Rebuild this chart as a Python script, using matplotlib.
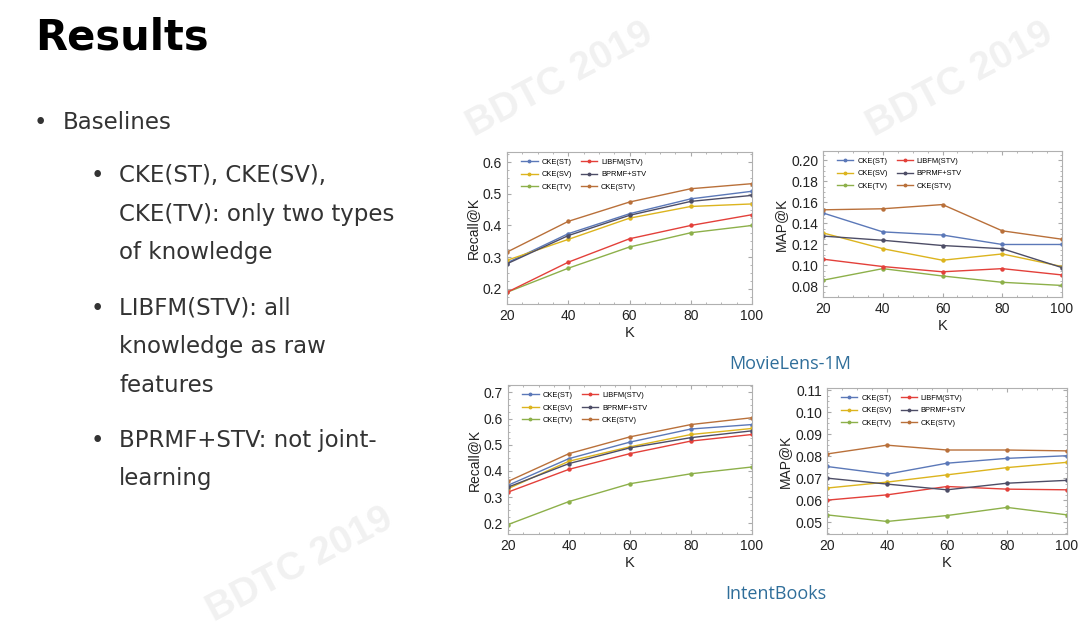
import matplotlib
matplotlib.use("Agg")
import matplotlib.pyplot as plt
from matplotlib.ticker import FixedLocator, AutoMinorLocator

# ---- data ----
k_values = [20, 40, 60, 80, 100]
methods = ["CKE(ST)", "CKE(SV)", "CKE(TV)", "LIBFM(STV)", "BPRMF+STV", "CKE(STV)"]
colors = ["#5b78b8", "#dcb41e", "#8db04a", "#e3403a", "#4d4d66", "#b9703a"]

ml_recall = {
    "CKE(ST)": [0.282, 0.374, 0.437, 0.484, 0.508],
    "CKE(SV)": [0.290, 0.356, 0.423, 0.460, 0.468],
    "CKE(TV)": [0.189, 0.265, 0.332, 0.377, 0.400],
    "LIBFM(STV)": [0.189, 0.284, 0.358, 0.400, 0.434],
    "BPRMF+STV": [0.279, 0.368, 0.432, 0.476, 0.495],
    "CKE(STV)": [0.316, 0.413, 0.474, 0.516, 0.532],
}
ml_map = {
    "CKE(ST)": [0.150, 0.132, 0.129, 0.120, 0.120],
    "CKE(SV)": [0.131, 0.116, 0.105, 0.111, 0.099],
    "CKE(TV)": [0.086, 0.097, 0.090, 0.084, 0.081],
    "LIBFM(STV)": [0.106, 0.099, 0.094, 0.097, 0.091],
    "BPRMF+STV": [0.128, 0.124, 0.119, 0.116, 0.098],
    "CKE(STV)": [0.153, 0.154, 0.158, 0.133, 0.125],
}
ib_recall = {
    "CKE(ST)": [0.345, 0.447, 0.510, 0.560, 0.577],
    "CKE(SV)": [0.332, 0.437, 0.492, 0.539, 0.562],
    "CKE(TV)": [0.195, 0.283, 0.351, 0.389, 0.415],
    "LIBFM(STV)": [0.319, 0.406, 0.466, 0.514, 0.539],
    "BPRMF+STV": [0.338, 0.428, 0.488, 0.527, 0.553],
    "CKE(STV)": [0.360, 0.466, 0.530, 0.577, 0.603],
}
ib_map = {
    "CKE(ST)": [0.0753, 0.0718, 0.0768, 0.0790, 0.0802],
    "CKE(SV)": [0.0655, 0.0682, 0.0715, 0.0748, 0.0772],
    "CKE(TV)": [0.0533, 0.0503, 0.0530, 0.0567, 0.0533],
    "LIBFM(STV)": [0.0600, 0.0624, 0.0662, 0.0650, 0.0647],
    "BPRMF+STV": [0.0700, 0.0673, 0.0647, 0.0677, 0.0690],
    "CKE(STV)": [0.0810, 0.0850, 0.0828, 0.0828, 0.0824],
}

W, H = 1080, 628
fig = plt.figure(figsize=(W / 100, H / 100), dpi=100)
fig.patch.set_facecolor("white")


def fx(px):
    return px / W


def fy(py):
    return 1 - py / H


# faint "BDTC 2019" watermark, kept behind everything
for wx, wy in [(560, 80), (960, 80), (300, 565)]:
    fig.text(fx(wx), fy(wy), "BDTC 2019", fontsize=28, fontweight="bold",
             color="#f1f1f1", rotation=28, ha="center", va="center",
             family="Liberation Sans", zorder=-5)

# slide text
fig.text(fx(35), fy(37), "Results", fontsize=30, fontweight="bold",
         family="DejaVu Sans", color="black", va="center")

body = dict(family="DejaVu Sans", color="#333333", va="center", fontsize=16.5)
fig.text(fx(34), fy(122), "•", **body)
fig.text(fx(63), fy(122), "Baselines", **body)

lines = [
    (176, True, "CKE(ST), CKE(SV),"),
    (215, False, "CKE(TV): only two types"),
    (253, False, "of knowledge"),
    (308, True, "LIBFM(STV): all"),
    (347, False, "knowledge as raw"),
    (385, False, "features"),
    (440, True, "BPRMF+STV: not joint-"),
    (478, False, "learning"),
]
for ypx, bullet, txt in lines:
    if bullet:
        fig.text(fx(91), fy(ypx), "•", **body)
    fig.text(fx(119), fy(ypx), txt, **body)

cap = dict(family="Open Sans", color="#2f6e9a", fontsize=13, ha="center", va="center")
fig.text(fx(790), fy(364), "MovieLens-1M", **cap)
fig.text(fx(776), fy(594), "IntentBooks", **cap)


def panel(rect_px, data, ylim, yticks, ylabel, fmt):
    l, r, t, b = rect_px
    ax = fig.add_axes([fx(l), fy(b), fx(r - l), (b - t) / H])
    ax.set_facecolor("none")
    for m, c in zip(methods, colors):
        ax.plot(k_values, data[m], color=c, lw=1.0, marker="o", ms=2.2, label=m)
    ax.set_xlim(20, 100)
    ax.set_ylim(*ylim)
    ax.xaxis.set_major_locator(FixedLocator(k_values))
    ax.yaxis.set_major_locator(FixedLocator(yticks))
    ax.set_yticklabels([fmt % v for v in yticks])
    ax.xaxis.set_minor_locator(AutoMinorLocator(4))
    ax.yaxis.set_minor_locator(AutoMinorLocator(4))
    ax.tick_params(which="both", direction="in", top=True, right=True,
                   colors="#aaaaaa", labelcolor="#222222", labelsize=10)
    ax.tick_params(which="major", length=3)
    ax.tick_params(which="minor", length=1.5)
    for s in ax.spines.values():
        s.set_color("#b0b0b0")
        s.set_linewidth(0.8)
    ax.set_xlabel("K", fontsize=10.5, color="#222222", labelpad=2)
    ax.set_ylabel(ylabel, fontsize=10, color="#222222", labelpad=2)
    ax.legend(loc="upper left", bbox_to_anchor=(0.03, 1.0), ncol=2,
              fontsize=5.4, frameon=False, handlelength=2.2, markerscale=0.8,
              columnspacing=1.2, labelspacing=0.7, handletextpad=0.5)
    return ax


plt.rcParams["font.family"] = ["Liberation Sans", "DejaVu Sans"]

panel((507, 752, 152, 304), ml_recall, (0.152, 0.632), [0.2, 0.3, 0.4, 0.5, 0.6],
      "Recall@K", "%.1f")
panel((823, 1062, 151, 297), ml_map, (0.070, 0.209),
      [0.08, 0.10, 0.12, 0.14, 0.16, 0.18, 0.20], "MAP@K", "%.2f")
panel((508, 752, 385, 534), ib_recall, (0.159, 0.728), [0.2, 0.3, 0.4, 0.5, 0.6, 0.7],
      "Recall@K", "%.1f")
panel((827, 1067, 388, 534), ib_map, (0.0446, 0.111),
      [0.05, 0.06, 0.07, 0.08, 0.09, 0.10, 0.11], "MAP@K", "%.2f")

fig.savefig("out.png", dpi=100)
